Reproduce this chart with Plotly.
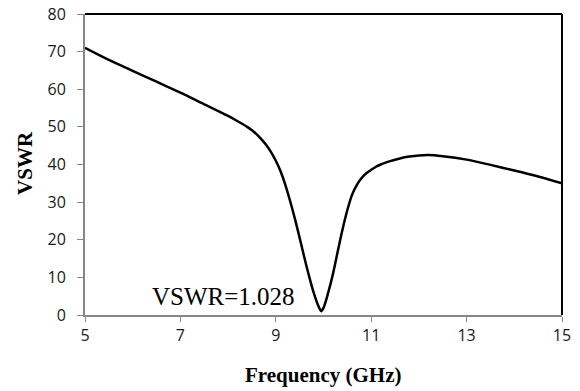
import plotly.graph_objects as go

freq = [5.0, 5.5, 6.0, 6.5, 7.0, 7.5, 8.0, 8.2, 8.4, 8.5, 8.6, 8.7, 8.8, 8.9, 9.0, 9.1,
        9.2, 9.3, 9.4, 9.5, 9.6, 9.7, 9.8, 9.9, 9.95, 10.0, 10.1, 10.2, 10.3, 10.4, 10.5,
        10.6, 10.7, 10.8, 10.9, 11.0, 11.1, 11.2, 11.3, 11.4, 11.6, 11.8, 12.0, 12.2,
        12.5, 13.0, 13.5, 14.0, 14.5, 15.0]
vswr = [71.0, 67.8, 64.9, 62.0, 59.1, 56.0, 52.9, 51.5, 50.0, 49.1, 48.0, 46.7, 45.2,
        43.3, 41.0, 38.2, 34.6, 30.3, 25.6, 20.5, 15.2, 10.2, 5.7, 2.2, 1.028, 1.9, 6.0,
        11.0, 17.0, 22.8, 27.9, 32.0, 34.6, 36.4, 37.7, 38.6, 39.4, 40.0, 40.5, 40.9,
        41.6, 42.1, 42.4, 42.5, 42.2, 41.3, 39.9, 38.4, 36.8, 35.0]
x_ticks = [5, 7, 9, 11, 13, 15]
y_ticks = [0, 10, 20, 30, 40, 50, 60, 70, 80]
x_title = "<b>Frequency (GHz)</b>"
y_title = "<b>VSWR</b>"
note_text = "VSWR=1.028"
note_pos = (7.9, 5.0)

fig = go.Figure()
fig.add_trace(go.Scatter(x=freq, y=vswr, mode="lines",
                         line=dict(color="black", width=2.5, shape="spline", smoothing=0.8),
                         showlegend=False))

tick_font = dict(family="Open Sans, Liberation Sans, sans-serif", size=16, color="#1a1a1a")
serif = "Liberation Serif, Times New Roman, serif"

fig.update_layout(
    width=580, height=391,
    margin=dict(l=85, r=18, t=14, b=76),
    paper_bgcolor="white", plot_bgcolor="white",
    xaxis=dict(range=[5, 15], tickvals=x_ticks, ticks="outside", ticklen=5,
               tickcolor="#868686", showline=True, linecolor="#868686", linewidth=2,
               showgrid=False, zeroline=False, tickfont=tick_font, automargin=False),
    yaxis=dict(range=[0, 80], tickvals=y_ticks, ticks="outside", ticklen=6,
               tickcolor="#868686", showline=True, linecolor="#868686", linewidth=2,
               showgrid=False, zeroline=False, tickfont=tick_font,
               ticklabelstandoff=8, automargin=False),
    shapes=[
        dict(type="line", xref="paper", yref="paper", x0=0, x1=1, y0=1, y1=1,
             line=dict(color="black", width=2)),
        dict(type="line", xref="paper", yref="paper", x0=1, x1=1, y0=0, y1=1,
             line=dict(color="black", width=2)),
    ],
    annotations=[
        dict(x=note_pos[0], y=note_pos[1], text=note_text, showarrow=False,
             font=dict(family=serif, size=25, color="black")),
        dict(x=0.5, y=-0.2, xref="paper", yref="paper", text=x_title, showarrow=False,
             font=dict(family=serif, size=21, color="black"), yanchor="middle"),
        dict(x=-0.126, y=0.505, xref="paper", yref="paper", text=y_title, showarrow=False,
             textangle=-90, font=dict(family=serif, size=21, color="black"),
             xanchor="center", yanchor="middle"),
    ],
)

fig.write_html("out.html")
